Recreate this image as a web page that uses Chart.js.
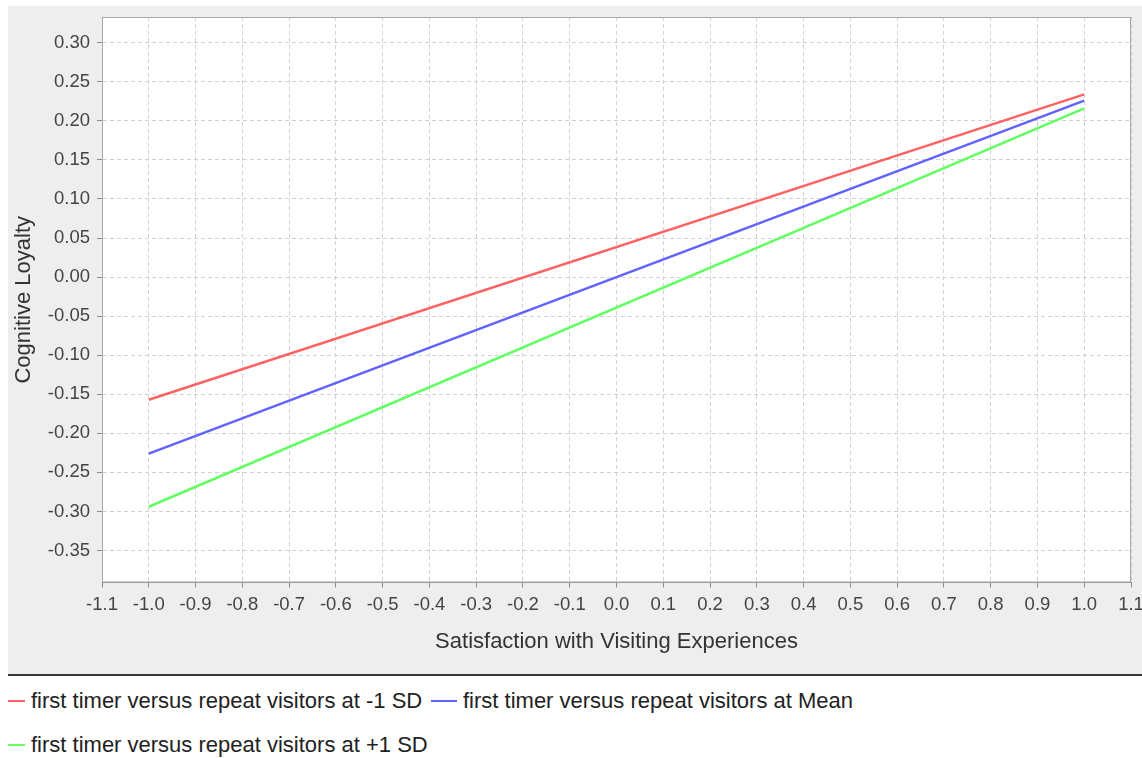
<!DOCTYPE html>
<html>
<head>
<meta charset="utf-8">
<script src="https://cdn.jsdelivr.net/npm/chart.js@4"></script>
<style>
  html, body { margin: 0; padding: 0; background: #fff; }
  body { width: 1142px; height: 758px; position: relative; overflow: hidden; font-family: "Liberation Sans", Arial, sans-serif; }
  #chart { position: absolute; left: 0; top: 0; }
  .legend-row { position: absolute; left: 0; height: 30px; display: flex; align-items: center; font-size: 22px; color: #222; white-space: nowrap; }
  .legend-item { position: absolute; display: flex; align-items: center; height: 30px; }
  .legend-item .swatch { height: 2px; margin-right: 6px; }
</style>
</head>
<body>
<canvas id="chart" width="1142" height="676"></canvas>
<div id="legend"></div>
<script>
// x positions of the simple slopes
const xValues = [-1.0, 1.0];

// Cognitive Loyalty at each x
const lowSD = [-0.157, 0.234];
const meanSD = [-0.226, 0.226];
const highSD = [-0.294, 0.216];

const seriesNames = [
  'first timer versus repeat visitors at -1 SD',
  'first timer versus repeat visitors at Mean',
  'first timer versus repeat visitors at +1 SD'
];
const seriesColors = ['#ff6262', '#6262ff', '#62ff62'];

const xTicks = [-1.1, -1.0, -0.9, -0.8, -0.7, -0.6, -0.5, -0.4, -0.3, -0.2, -0.1, 0.0,
  0.1, 0.2, 0.3, 0.4, 0.5, 0.6, 0.7, 0.8, 0.9, 1.0, 1.1];
const yTicks = [-0.35, -0.30, -0.25, -0.20, -0.15, -0.10, -0.05, 0.00,
  0.05, 0.10, 0.15, 0.20, 0.25, 0.30];

const seriesValues = [lowSD, meanSD, highSD];

const toPoints = vals => vals.map((v, i) => ({ x: xValues[i], y: v }));

// gray chart panel, white plot, dark separator, plot outline
const panelPlugin = {
  id: 'panel',
  beforeDraw(chart) {
    const ctx = chart.ctx;
    const a = chart.chartArea;
    ctx.save();
    ctx.fillStyle = '#ffffff';
    ctx.fillRect(0, 0, chart.width, chart.height);
    ctx.fillStyle = '#eeeeee';
    ctx.fillRect(8, 6, chart.width - 8, 669);
    ctx.fillStyle = '#ffffff';
    ctx.fillRect(a.left, a.top, a.right - a.left, a.bottom - a.top);
    ctx.fillStyle = '#3a3a3a';
    ctx.fillRect(8, 674, chart.width - 8, 2);
    ctx.restore();
  },
  beforeDatasetsDraw(chart) {
    const ctx = chart.ctx;
    const a = chart.chartArea;
    ctx.save();
    ctx.strokeStyle = '#a8a8a8';
    ctx.lineWidth = 1;
    ctx.strokeRect(a.left + 0.5, a.top + 0.5, a.right - a.left - 1, a.bottom - a.top - 1);
    ctx.restore();
  }
};

const tickFont = { family: '"Liberation Sans", Arial, sans-serif', size: 18.5 };
const titleFont = { family: '"Liberation Sans", Arial, sans-serif', size: 22 };

const chart = new Chart(document.getElementById('chart'), {
  type: 'line',
  data: {
    datasets: seriesNames.map((name, i) => ({
      label: name,
      data: toPoints(seriesValues[i]),
      borderColor: seriesColors[i],
      backgroundColor: seriesColors[i],
      borderWidth: 2.5,
      pointRadius: 0,
      fill: false,
      tension: 0
    }))
  },
  options: {
    responsive: false,
    animation: false,
    devicePixelRatio: 1,
    layout: { padding: { left: 0, top: 17, right: 11, bottom: 0 } },
    plugins: {
      legend: { display: false },
      tooltip: { enabled: false }
    },
    scales: {
      x: {
        type: 'linear',
        min: -1.1,
        max: 1.1,
        afterBuildTicks: s => { s.ticks = xTicks.map(v => ({ value: v })); },
        afterFit: s => { s.height = 93.5; s.paddingLeft = 0; s.paddingRight = 0; },
        ticks: {
          callback: v => v.toFixed(1),
          font: tickFont,
          color: '#444',
          padding: 6,
          maxRotation: 0,
          autoSkip: false
        },
        grid: { color: '#d2d2d2', tickColor: '#8a8a8a', tickLength: 5, lineWidth: 1 },
        border: { color: '#8a8a8a', width: 1, dash: [4, 3] },
        title: {
          display: true,
          text: 'Satisfaction with Visiting Experiences',
          font: titleFont,
          color: '#333',
          padding: { top: 0, bottom: 21 }
        }
      },
      y: {
        type: 'linear',
        min: -0.391,
        max: 0.333,
        afterBuildTicks: s => { s.ticks = yTicks.map(v => ({ value: v })); },
        afterFit: s => { s.width = 102; s.paddingTop = 0; s.paddingBottom = 0; },
        ticks: {
          callback: v => v.toFixed(2),
          font: tickFont,
          color: '#444',
          padding: 7,
          autoSkip: false
        },
        grid: { color: '#d2d2d2', tickColor: '#8a8a8a', tickLength: 5, lineWidth: 1 },
        border: { color: '#8a8a8a', width: 1, dash: [4, 3] },
        title: {
          display: true,
          text: 'Cognitive Loyalty',
          font: titleFont,
          color: '#333',
          padding: { top: 11, bottom: 0 }
        }
      }
    }
  },
  plugins: [panelPlugin]
});

// legend below the chart panel, laid out like the original
const legend = document.getElementById('legend');
const legendSpots = [
  { left: 8, top: 686, swatch: 17 },
  { left: 431, top: 686, swatch: 26 },
  { left: 8, top: 730, swatch: 17 }
];
chart.data.datasets.forEach((ds, i) => {
  const spot = legendSpots[i];
  const item = document.createElement('div');
  item.className = 'legend-item';
  item.style.left = spot.left + 'px';
  item.style.top = spot.top + 'px';
  item.style.fontSize = '22px';
  item.style.color = '#222';
  const sw = document.createElement('span');
  sw.className = 'swatch';
  sw.style.width = spot.swatch + 'px';
  sw.style.background = ds.borderColor;
  const label = document.createElement('span');
  label.textContent = ds.label;
  item.appendChild(sw);
  item.appendChild(label);
  legend.appendChild(item);
});
</script>
</body>
</html>
